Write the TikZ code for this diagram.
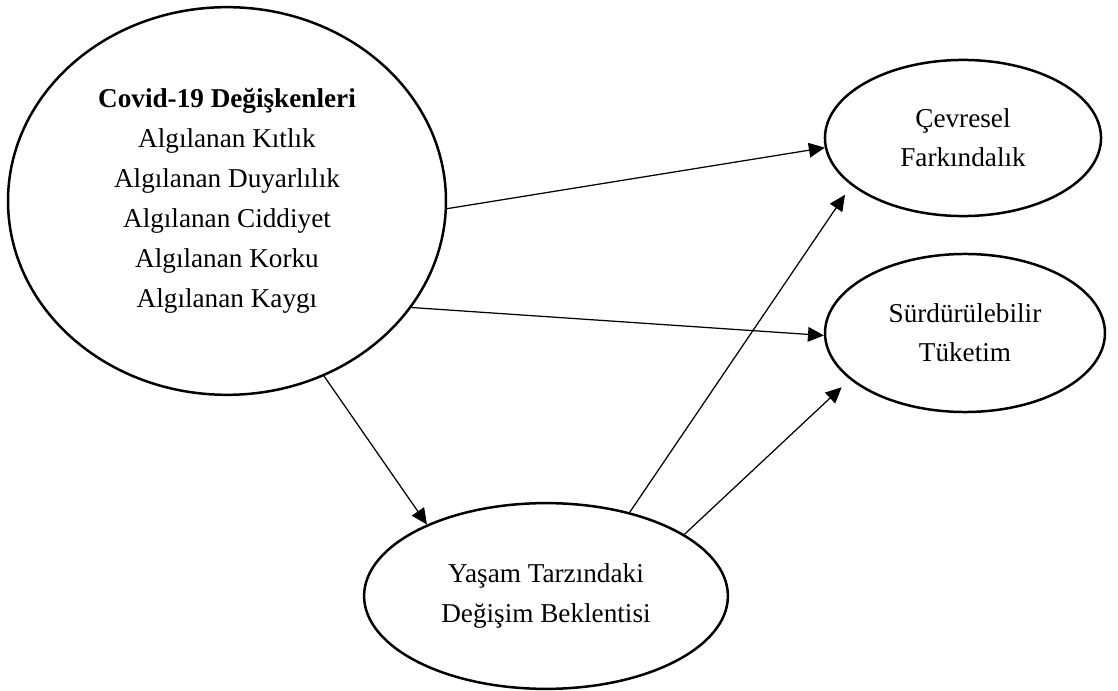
\documentclass[tikz,border=0pt]{standalone}
\usepackage{fontspec}
\setmainfont{Liberation Serif}
\usetikzlibrary{shapes.geometric,arrows.meta}

\begin{document}
\begin{tikzpicture}[x=0.0155cm,y=-0.0155cm,
    ell/.style={draw,ellipse,line width=1.1pt,align=center,inner sep=0pt,
      font=\fontsize{12}{17.3}\selectfont},
    arr/.style={line width=0.55pt,-{Triangle[length=7pt,width=6.5pt]}}]
  \useasboundingbox (0,0) rectangle (1118,691);

  \node[ell,minimum width=6.79cm,minimum height=6.01cm,font=\fontsize{12}{17.6}\selectfont] (covid) at (227,201)
    {\textbf{Covid-19 Değişkenleri}\\Algılanan Kıtlık\\Algılanan Duyarlılık\\Algılanan Ciddiyet\\Algılanan Korku\\Algılanan Kaygı};
  \node[ell,minimum width=4.28cm,minimum height=2.42cm] (cevre) at (963,138) {Çevresel\\Farkındalık};
  \node[ell,minimum width=4.34cm,minimum height=2.45cm] (tuketim) at (965,333) {Sürdürülebilir\\Tüketim};
  \node[ell,minimum width=5.64cm,minimum height=2.88cm] (yasam) at (546,596) {Yaşam Tarzındaki\\Değişim Beklentisi};

  \draw[arr] (covid.-2) -- (cevre.184);
  \draw[arr] (covid.-30) -- (tuketim.181);
  \draw[arr] (covid.-61.5) -- (yasam.149);
  \draw[arr,shorten >=5pt] (yasam.45) -- (cevre.203);
  \draw[arr,shorten >=5pt] (yasam.24.5) -- (tuketim.202);

\end{tikzpicture}
\end{document}
